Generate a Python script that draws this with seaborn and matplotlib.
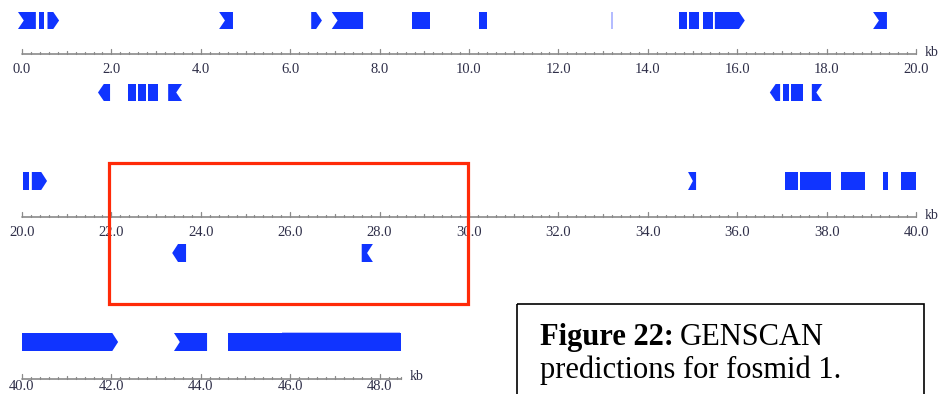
import numpy as np
import matplotlib
matplotlib.use("Agg")
import matplotlib.pyplot as plt
from matplotlib.patches import Polygon, Rectangle
import seaborn as sns

# GENSCAN exons (kb); shape: rect, arrow_r, notch_l (forward) / arrow_l, notch_r (reverse)
fwd_start = [-0.09, 0.37, 0.57, 4.41, 6.47, 6.93, 8.72, 10.22, 14.70, 14.92, 15.24, 15.50,
             19.04, 20.02, 20.22, 34.90, 37.07, 37.40, 38.32, 39.26, 39.66, 40.00, 43.40, 44.61]
fwd_end = [0.31, 0.50, 0.83, 4.72, 6.71, 7.63, 9.13, 10.40, 14.88, 15.15, 15.46, 16.17,
           19.35, 20.16, 20.56, 35.08, 37.36, 38.10, 38.86, 39.37, 40.00, 42.15, 44.14, 48.48]
fwd_shape = ["notch_l", "rect", "arrow_r", "notch_l", "arrow_r", "notch_l", "rect", "rect",
             "rect", "rect", "rect", "arrow_r", "notch_l", "rect", "arrow_r", "notch_l",
             "rect", "rect", "rect", "rect", "rect", "arrow_r", "notch_l", "rect"]

rev_start = [1.70, 2.37, 2.60, 2.82, 3.27, 16.73, 17.02, 17.20, 17.67, 23.36, 27.60]
rev_end = [1.97, 2.55, 2.77, 3.04, 3.58, 16.96, 17.16, 17.47, 17.90, 23.67, 27.85]
rev_shape = ["arrow_l", "rect", "rect", "rect", "notch_r", "arrow_l", "rect", "rect",
             "notch_r", "arrow_l", "notch_r"]

faint_start = [13.18, 45.82]
faint_end = [13.23, 48.46]

row_start = [0.0, 20.0, 40.0]
row_end = [20.0, 40.0, 48.47]
tick_labels = [["%.1f" % v for v in np.arange(s, e + 0.01, 2.0)] for s, e in zip(row_start, row_end)]

# layout in pixels
W, H = 939, 394
X0, PX = 22, 44.7
axis_y = [54, 217, 379]
label_bottom = [76, 239, 393.5]
fwd_y = [(12, 29), (172, 190), (333, 351)]
rev_y = [(84, 101), (244, 262), None]
faint_y = [(12, 29), (331.5, 333)]

BLUE = "#1034ff"
sns.set_style("white")
plt.rcParams["font.family"] = ["Liberation Serif", "DejaVu Serif"]

fig = plt.figure(figsize=(W / 100, H / 100), dpi=100)
axes = []
for r in range(3):
    ax = fig.add_axes([0, 0, 1, 1])
    ax.set_xlim(row_start[r] - X0 / PX, row_start[r] + (W - X0) / PX)
    ax.set_ylim(H, 0)
    ax.axis("off")
    ax.patch.set_alpha(0)
    axes.append(ax)


def exon_poly(s, e, top, bot, shape):
    mid = (top + bot) / 2
    d = min(0.13, (e - s) * 0.6)
    if shape == "arrow_r":
        return [(s, top), (e - d, top), (e, mid), (e - d, bot), (s, bot)]
    if shape == "notch_l":
        return [(s, top), (e, top), (e, bot), (s, bot), (s + d, mid)]
    if shape == "arrow_l":
        return [(s + d, top), (e, top), (e, bot), (s + d, bot), (s, mid)]
    if shape == "notch_r":
        return [(s, top), (e, top), (e - d, mid), (e, bot), (s, bot)]
    return [(s, top), (e, top), (e, bot), (s, bot)]


def row_of(s, e):
    return int(min(max((s + e) / 2 // 20, 0), 2))


for s, e, sh in zip(fwd_start, fwd_end, fwd_shape):
    r = row_of(s, e)
    top, bot = fwd_y[r]
    axes[r].add_patch(Polygon(exon_poly(s, e, top, bot, sh), closed=True, fc=BLUE, ec="none"))

for s, e, sh in zip(rev_start, rev_end, rev_shape):
    r = row_of(s, e)
    top, bot = rev_y[r]
    axes[r].add_patch(Polygon(exon_poly(s, e, top, bot, sh), closed=True, fc=BLUE, ec="none"))

for (s, e), (top, bot) in zip(zip(faint_start, faint_end), faint_y):
    r = row_of(s, e)
    axes[r].add_patch(Rectangle((s, top), e - s, bot - top, fc="#b4bcff", ec="none"))

# rulers
for r, ax in enumerate(axes):
    y = axis_y[r]
    sns.lineplot(x=[row_start[r], row_end[r]], y=[y, y], ax=ax, color="#8a8a8a", lw=1.2)
    n = int(round((row_end[r] - row_start[r]) / 0.2))
    for i in range(n + 1):
        v = row_start[r] + i * 0.2
        if i % 10 == 0:
            h = 5
        elif i % 5 == 0:
            h = 3.5
        else:
            h = 2
        ax.plot([v, v], [y, y - h], color="#8a8a8a", lw=0.9)
    if row_end[r] - (row_start[r] + n * 0.2) > 0.01:
        ax.plot([row_end[r], row_end[r]], [y, y - 2], color="#8a8a8a", lw=0.9)
    for lab in tick_labels[r]:
        ax.text(float(lab), label_bottom[r], lab, ha="center", va="bottom",
                fontsize=10.5, color="#2e2e48")
    ax.text(row_end[r] + 0.2, y - 2, "kb", ha="left", va="center", fontsize=10, color="#2e2e48")

# overlay: highlight box and caption
ov = fig.add_axes([0, 0, 1, 1])
ov.set_xlim(0, W)
ov.set_ylim(H, 0)
ov.axis("off")
ov.patch.set_alpha(0)
ov.add_patch(Rectangle((108.5, 163), 359, 141, fill=False, ec="#ff2a08", lw=2.3))
ov.add_patch(Rectangle((517, 304), 407, 110, fill=False, ec="black", lw=1.2))

t1 = ov.text(540, 345, "Figure 22:", fontsize=22, fontweight="bold", va="baseline",
             ha="left", color="black")
fig.canvas.draw()
bb = t1.get_window_extent(renderer=fig.canvas.get_renderer())
ov.text(bb.x1 + 6, 345, "GENSCAN", fontsize=22, va="baseline", ha="left", color="black")
ov.text(540, 378, "predictions for fosmid 1.", fontsize=22, va="baseline", ha="left", color="black")

fig.savefig("out.png", dpi=100)
